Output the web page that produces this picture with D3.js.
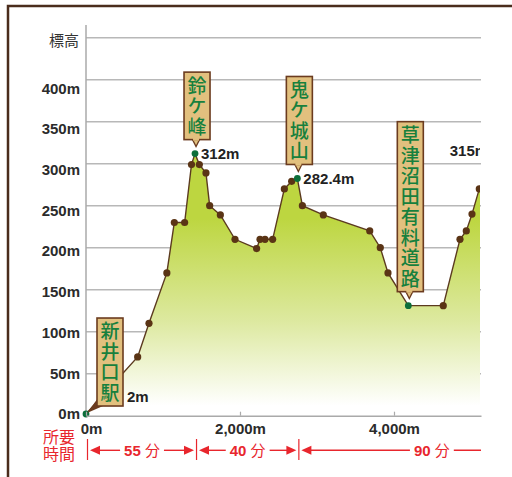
<!DOCTYPE html>
<html>
<head>
<meta charset="utf-8">
<script src="https://cdn.jsdelivr.net/npm/d3@7"></script>
<style>
  body { margin: 0; background: #fff; }
  text { font-family: "Liberation Sans", Arial, sans-serif; }
  .jp { font-family: "Noto Sans CJK JP", "Noto Sans", sans-serif; }
</style>
</head>
<body>
<script>
// profile data (distance in m, elevation in m)
var distances  = [0, 671, 818, 1050, 1147, 1281, 1370, 1416, 1472, 1558, 1606, 1745, 1935, 2216, 2260, 2325, 2424, 2576, 2671, 2745, 2810, 3082, 3685, 3822, 3922, 4186, 4640, 4857, 4939, 5013, 5108, 5300];
var elevations = [2, 70, 110, 170, 230, 230, 299, 312, 299, 289, 250, 239, 210, 199, 210, 210, 210, 270, 279, 282.4, 250, 239, 220, 200, 170, 131, 131, 210, 220, 240, 270, 315];

// landmarks (signposts)
var landmarkNames = ["新井口駅", "鈴ケ峰", "鬼ケ城山", "草津沼田有料道路"];
var landmarkDist  = [0, 1416, 2745, 4186];

// elevation labels
var heightLabels = ["2m", "312m", "282.4m", "315m"];
var heightDist   = [0, 1416, 2745, 5300];

// travel time
var timeBounds = [0, 1416, 2745, 6200];
var timeLabels = ["55 分", "40 分", "90 分"];

// axis ticks
var yTicks = [0, 50, 100, 150, 200, 250, 300, 350, 400];
var xTicks = [0, 2000, 4000];

var svgWidth = 512, svgHeight = 477;

var svg = d3.select("body").append("svg")
  .attr("width", svgWidth)
  .attr("height", svgHeight);

var x = d3.scaleLinear().domain([0, 5130]).range([86, 481]);
var y = d3.scaleLinear().domain([0, 450]).range([415.7, 37.7]);
// the tick labels sit on a slightly tighter spacing than the grid
var yLab = d3.scaleLinear().domain([0, 400]).range([414, 88.3]);

var data = distances.map(function (d, i) { return { d: d, v: elevations[i] }; });
function elevAt(d) { return elevations[distances.indexOf(d)]; }

// frame
svg.append("path")
  .attr("d", "M8,480 L8,6 L515,6")
  .attr("fill", "none")
  .attr("stroke", "#4a2c1c")
  .attr("stroke-width", 2.5);

var defs = svg.append("defs");
defs.append("clipPath").attr("id", "plotClip")
  .append("rect").attr("x", 0).attr("y", 0).attr("width", 480).attr("height", svgHeight);
defs.append("clipPath").attr("id", "rowClip")
  .append("rect").attr("x", 0).attr("y", 0).attr("width", 481).attr("height", svgHeight);

var grad = defs.append("linearGradient")
  .attr("id", "fillGrad")
  .attr("gradientUnits", "userSpaceOnUse")
  .attr("x1", 0).attr("x2", 0)
  .attr("y1", y(235)).attr("y2", y(12));
grad.append("stop").attr("offset", 0).attr("stop-color", "#bdd640");
grad.append("stop").attr("offset", 0.55).attr("stop-color", "#dde9a0");
grad.append("stop").attr("offset", 1).attr("stop-color", "#ffffff");

// grid lines
svg.append("g").selectAll("line")
  .data(yTicks.slice(1).concat([450]))
  .enter().append("line")
  .attr("x1", 86).attr("x2", 481)
  .attr("y1", d => y(d)).attr("y2", d => y(d))
  .attr("stroke", "#b8b8b8")
  .attr("stroke-width", 1.6);

// y axis line
svg.append("line")
  .attr("x1", 86).attr("x2", 86)
  .attr("y1", 25).attr("y2", y(0))
  .attr("stroke", "#aaaaaa")
  .attr("stroke-width", 1.5);

// y labels
svg.append("g").selectAll("text")
  .data(yTicks)
  .enter().append("text")
  .attr("x", 80)
  .attr("y", d => yLab(d))
  .attr("dy", "0.35em")
  .attr("text-anchor", "end")
  .style("font-size", "15px")
  .style("font-weight", "bold")
  .style("fill", "#2b2b2b")
  .text(d => d + "m");

svg.append("text")
  .attr("class", "jp")
  .attr("x", 79)
  .attr("y", 41)
  .attr("dy", "0.35em")
  .attr("text-anchor", "end")
  .style("font-size", "15px")
  .style("fill", "#333")
  .text("標高");

// profile
var plot = svg.append("g").attr("clip-path", "url(#plotClip)");

var area = d3.area()
  .x(d => x(d.d))
  .y0(y(0))
  .y1(d => y(d.v));
var line = d3.line()
  .x(d => x(d.d))
  .y(d => y(d.v));

plot.append("path")
  .datum(data)
  .attr("d", area)
  .attr("fill", "url(#fillGrad)");

plot.append("path")
  .datum(data)
  .attr("d", line)
  .attr("fill", "none")
  .attr("stroke", "#5b3a1f")
  .attr("stroke-width", 1.4);

// x axis
var xAxis = d3.axisBottom(x)
  .tickValues(xTicks)
  .tickSizeInner(-4)
  .tickSizeOuter(0)
  .tickPadding(8)
  .tickFormat(d => d3.format(",")(d) + "m");

var xg = svg.append("g")
  .attr("transform", `translate(0, ${y(0)})`)
  .call(xAxis);
xg.select(".domain").attr("stroke", "#aaaaaa").attr("stroke-width", 1.5);
xg.selectAll(".tick line").attr("stroke", "#aaaaaa").attr("stroke-width", 1.2);
xg.selectAll(".tick text")
  .style("font-family", "'Liberation Sans', Arial, sans-serif")
  .style("font-size", "15px")
  .style("font-weight", "bold")
  .style("fill", "#2b2b2b")
  .attr("dx", d => d === 0 ? 5 : 0);

// markers
var isLandmark = d => landmarkDist.indexOf(d.d) >= 0 || d.v === 315;
plot.selectAll("circle")
  .data(data)
  .enter().append("circle")
  .attr("cx", d => x(d.d))
  .attr("cy", d => y(d.v))
  .attr("r", d => isLandmark(d) ? 3.4 : 3.6)
  .attr("fill", d => isLandmark(d) ? "#0b6e3a" : "#5a3415");

// signposts
var charStep = 20.5, boxW = 26, signFont = 19;
landmarkNames.forEach(function (name, i) {
  var px = x(landmarkDist[i]);
  var py = y(elevAt(landmarkDist[i]));
  var n = name.length;
  var h = n * charStep + 6;
  var g = plot.append("g");
  var bx, by;
  if (landmarkDist[i] === 0) {
    // station sign sits to the right, with a tail down to the start point
    bx = px + 11; by = py - 8 - h;
    g.append("path")
      .attr("d", `M${bx + 1},${by + h - 8} L${bx + 6},${by + h} L${px + 1},${py - 1} Z`)
      .attr("fill", "#6b3b1f");
  } else {
    bx = px + 2 - boxW / 2; by = py - 14 - h;
    g.append("path")
      .attr("d", `M${px - 3},${by + h - 1} L${px + 5},${by + h - 1} L${px + 1},${py - 7} Z`)
      .attr("fill", "#e2c07e")
      .attr("stroke", "#6b3b1f")
      .attr("stroke-width", 1.3);
  }
  g.append("rect")
    .attr("x", bx).attr("y", by)
    .attr("width", boxW).attr("height", h)
    .attr("fill", "#e2c07e")
    .attr("stroke", "#6b3b1f")
    .attr("stroke-width", 1.6);
  if (landmarkDist[i] !== 0) {
    g.append("rect")
      .attr("x", px - 2).attr("y", by + h - 2)
      .attr("width", 6).attr("height", 3)
      .attr("fill", "#e2c07e");
  }
  // vertical sign text
  g.append("text")
    .attr("class", "jp")
    .attr("x", bx + boxW / 2)
    .attr("y", by + 3 + (charStep - signFont) / 2)
    .style("writing-mode", "vertical-rl")
    .style("text-orientation", "upright")
    .style("letter-spacing", (charStep - signFont) + "px")
    .style("font-size", signFont + "px")
    .style("font-weight", "500")
    .style("fill", "#17803d")
    .text(name);
});

// elevation labels
heightLabels.forEach(function (t, i) {
  var d = heightDist[i];
  var px = x(d), py = y(elevAt(d));
  var lx = px + 6, ly = py, anchor = "start";
  if (d === 0) { lx = px + 41; ly = py - 17; }
  if (d === distances[distances.length - 1]) { lx = px - 6; anchor = "end"; }
  plot.append("text")
    .attr("x", lx)
    .attr("y", ly)
    .attr("dy", "0.35em")
    .attr("text-anchor", anchor)
    .style("font-size", "15px")
    .style("font-weight", "bold")
    .style("fill", "#222")
    .text(t);
});

// travel time row
var red = "#e8262d";
svg.append("text")
  .attr("class", "jp")
  .attr("text-anchor", "middle")
  .style("font-size", "16px")
  .style("fill", red)
  .selectAll("tspan")
  .data(["所要", "時間"])
  .enter().append("tspan")
  .attr("x", 59)
  .attr("y", (t, i) => 436.7 + i * 17.6 + 5.8)
  .text(t => t);

var row = svg.append("g").attr("clip-path", "url(#rowClip)");
var rowY = 450.3;

timeBounds.slice(0, -1).forEach(function (b) {
  row.append("line")
    .attr("x1", x(b) + 1.5).attr("x2", x(b) + 1.5)
    .attr("y1", 439).attr("y2", 460)
    .attr("stroke", red)
    .attr("stroke-width", 1.2);
});

timeLabels.forEach(function (t, i) {
  var x0 = x(timeBounds[i]) + 1.5, x1 = x(timeBounds[i + 1]) + 1.5;
  var cx = (x0 + x1) / 2;
  var label = row.append("text")
    .attr("x", cx)
    .attr("y", rowY)
    .attr("dy", "0.36em")
    .attr("text-anchor", "middle")
    .style("font-size", "15px")
    .style("font-weight", "bold")
    .style("fill", red);
  label.append("tspan").text(t.split(" ")[0] + " ");
  label.append("tspan").attr("class", "jp").style("font-weight", "normal").text(t.split(" ")[1]);
  var w = label.node().getComputedTextLength();
  var a0 = x0 + 2.5, a1 = x1 - 2.5;
  row.append("line")
    .attr("x1", a0 + 8).attr("x2", cx - w / 2 - 4)
    .attr("y1", rowY).attr("y2", rowY)
    .attr("stroke", red).attr("stroke-width", 1.4);
  row.append("line")
    .attr("x1", cx + w / 2 + 4).attr("x2", a1 - 8)
    .attr("y1", rowY).attr("y2", rowY)
    .attr("stroke", red).attr("stroke-width", 1.4);
  row.append("path")
    .attr("d", `M${a0},${rowY} L${a0 + 10},${rowY - 4.5} L${a0 + 10},${rowY + 4.5} Z`)
    .attr("fill", red);
  row.append("path")
    .attr("d", `M${a1},${rowY} L${a1 - 10},${rowY - 4.5} L${a1 - 10},${rowY + 4.5} Z`)
    .attr("fill", red);
});
</script>
</body>
</html>
